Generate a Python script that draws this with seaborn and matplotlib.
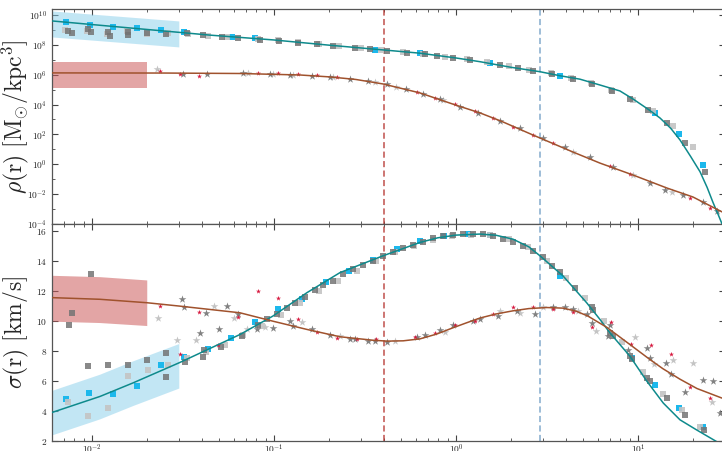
import numpy as np
import matplotlib
matplotlib.use("Agg")
import matplotlib.pyplot as plt
import seaborn as sns
from matplotlib.ticker import FixedLocator, FuncFormatter, NullFormatter, LogLocator

# values; radii given as log10(r / kpc)

# fitted curves, top panel (log10 rho)
dm_rho_line_logr = [-2.22, -1.956, -1.626, -1.352, -1.005, -0.70, -0.401, -0.198, 0.0, 0.132, 0.30,
                    0.4615, 0.571, 0.681, 0.791, 0.901, 0.973, 1.06, 1.121, 1.18, 1.231, 1.29,
                    1.341, 1.38, 1.412, 1.44, 1.462]
dm_rho_line_logv = [9.60, 9.31, 8.95, 8.65, 8.33, 7.98, 7.66, 7.44, 7.12, 6.87, 6.50,
                    6.20, 5.93, 5.70, 5.31, 4.91, 4.37, 3.65, 3.10, 2.41, 1.63, 0.51,
                    -0.50, -1.55, -2.55, -3.35, -4.0]
st_rho_line_logr = [-2.22, -1.6, -1.187, -0.857, -0.692, -0.55, -0.401, -0.198, 0.0, 0.132, 0.25,
                    0.423, 0.643, 0.791, 0.973, 1.159, 1.302, 1.462]
st_rho_line_logv = [6.12, 6.11, 6.08, 5.98, 5.85, 5.68, 5.38, 4.78, 3.96, 3.44, 2.88,
                    1.96, 0.82, 0.08, -0.72, -1.59, -2.19, -3.19]

# fitted curves, bottom panel (sigma in km/s)
dm_sig_line_logr = [-2.22, -1.956, -1.775, -1.522, -1.187, -1.006, -0.819, -0.637, -0.401, -0.198,
                    -0.10, 0.0, 0.132, 0.22, 0.313, 0.40, 0.4615, 0.588, 0.718, 0.791, 0.846,
                    0.956, 1.048, 1.139, 1.231, 1.322, 1.432]
dm_sig_line_v = [3.90, 4.97, 5.87, 7.21, 9.10, 10.33, 11.89, 13.23, 14.35, 15.24,
                 15.55, 15.73, 15.80, 15.72, 15.46, 14.95, 14.35, 13.01, 11.22, 10.11, 9.21,
                 7.65, 6.00, 4.53, 3.41, 2.74, 1.96]
st_sig_line_logr = [-2.22, -1.956, -1.698, -1.522, -1.187, -1.006, -0.819, -0.637, -0.456, -0.379,
                    -0.29, -0.198, -0.106, -0.0165, 0.06, 0.132, 0.22, 0.313, 0.40, 0.50, 0.588,
                    0.66, 0.725, 0.83, 0.956, 1.066, 1.137, 1.231, 1.324, 1.4615]
st_sig_line_v = [11.56, 11.45, 11.22, 11.0, 10.55, 9.99, 9.44, 8.95, 8.72, 8.66,
                 8.68, 8.81, 9.13, 9.55, 9.89, 10.20, 10.47, 10.68, 10.83, 10.90, 10.86,
                 10.66, 10.33, 9.57, 8.43, 7.43, 6.82, 6.12, 5.50, 4.86]

# shaded bands (radius in kpc)
rho_dm_band_r = [0.006, 0.030]
rho_dm_band_lo = [8.53, 7.86]
rho_dm_band_hi = [10.27, 9.60]
rho_st_band_r = [0.006, 0.020]
rho_st_band_lo = [5.11, 5.11]
rho_st_band_hi = [6.85, 6.85]
sig_dm_band_r = [0.006, 0.011, 0.0168, 0.030]
sig_dm_band_lo = [2.40, 3.47, 4.37, 5.53]
sig_dm_band_hi = [5.37, 6.45, 7.35, 8.50]
sig_st_band_r = [0.006, 0.011, 0.020]
sig_st_band_lo = [9.99, 9.90, 9.70]
sig_st_band_hi = [13.05, 12.96, 12.74]

# characteristic radii (kpc)
r_star = 0.40
r_dm = 2.89

# top panel points
rho_sq_dark_logr = [-2.132, -2.110, -2.022, -2.005, -1.912, -1.901, -1.802, -1.802, -1.698, -1.593,
                    -1.478, -1.390, -1.286, -1.198, -1.077, -0.973, -0.868, -0.764, -0.676, -0.555,
                    -0.473, -0.379, -0.269, -0.170, -0.104, -0.016, 0.077, 0.242, 0.341, 0.423,
                    0.527, 0.643, 0.747, 0.857, 0.956, 1.055, 1.159, 1.258, 1.368]
rho_sq_dark_logv = [8.95, 8.77, 9.04, 8.84, 8.88, 8.59, 8.84, 8.66, 8.77, 8.71,
                    8.77, 8.66, 8.55, 8.48, 8.33, 8.26, 8.14, 8.06, 7.94, 7.81,
                    7.72, 7.61, 7.47, 7.37, 7.25, 7.14, 6.99, 6.65, 6.43, 6.27,
                    6.05, 5.69, 5.38, 4.93, 4.37, 3.64, 2.75, 1.41, -0.50]
rho_sq_light_logr = [-2.15, -2.03, -1.92, -1.81, -1.70, -1.58, -1.47, -1.36, -1.26, -1.09, -0.98,
                     -0.87, -0.75, -0.64, -0.52, -0.41, -0.29, -0.18, -0.06, 0.06, 0.17, 0.29,
                     0.40, 0.52, 0.63, 0.74, 0.85, 0.97, 1.08, 1.19, 1.30]
rho_sq_light_logv = [9.00, 8.95, 8.75, 8.90, 8.70, 8.78, 8.70, 8.62, 8.52, 8.36, 8.30,
                     8.17, 8.03, 7.92, 7.78, 7.63, 7.50, 7.39, 7.20, 7.03, 6.85, 6.58,
                     6.33, 6.08, 5.75, 5.42, 5.00, 4.32, 3.55, 2.55, 1.15]
rho_sq_blue_logr = [-2.143, -2.011, -1.885, -1.753, -1.621, -1.495, -1.231, -1.104, -0.445, -0.198,
                    0.187, 0.571, 1.093, 1.225, 1.357]
rho_sq_blue_logv = [9.51, 9.33, 9.22, 9.11, 8.96, 8.84, 8.55, 8.44, 7.66, 7.43,
                    6.76, 5.91, 3.42, 2.03, -0.05]
rho_star_red_logr = [-1.626, -1.516, -1.412, -1.088, -0.978, -0.868, -0.764, -0.654, -0.214, -0.115,
                     -0.005, 0.104, 0.203, 0.313, 0.423, 0.533, 0.846, 0.956, 1.286, 1.396]
rho_star_red_logv = [6.25, 6.05, 5.93, 6.14, 6.10, 6.05, 5.96, 5.87, 4.86, 4.46,
                     4.04, 3.57, 3.08, 2.52, 1.96, 1.41, -0.09, -0.67, -2.28, -2.95]
rho_star_dark_logr = [-1.500, -1.368, -1.170, -1.022, -0.912, -0.791, -0.692, -0.582, -0.484, -0.379,
                      -0.275, -0.181, -0.088, 0.022, 0.121, 0.242, 0.352, 0.478, 0.599, 0.736,
                      0.863, 1.066, 1.148, 1.247, 1.357, 1.434]
rho_star_dark_logv = [6.03, 6.07, 6.10, 6.05, 5.98, 5.91, 5.83, 5.69, 5.58, 5.36,
                      5.02, 4.71, 4.35, 3.86, 3.42, 2.92, 2.41, 1.74, 1.18, 0.47,
                      -0.16, -1.27, -1.72, -2.06, -2.50, -3.13]
rho_star_light_logr = [-1.643, -1.143, -1.005, -0.896, -0.676, -0.445, -0.330, -0.071, 0.643, 0.973, 1.187]
rho_star_light_logv = [6.38, 6.14, 6.05, 5.98, 5.83, 5.49, 5.20, 4.31, 0.84, -0.72, -1.84]

# bottom panel points
sig_sq_dark_logr = [-2.007, -2.108, -2.125, -2.020, -1.910, -1.804, -1.699, -1.595, -1.595, -1.489,
                    -1.390, -1.383, -1.291, -1.177, -1.086, -1.040, -0.985, -0.930, -0.885, -0.830,
                    -0.775, -0.729, -0.674, -0.619, -0.564, -0.509, -0.454, -0.399, -0.345, -0.290,
                    -0.235, -0.180, -0.125, -0.070, -0.015, 0.040, 0.095, 0.150, 0.205, 0.260,
                    0.315, 0.370, 0.425, 0.480, 0.526, 0.571, 0.654, 0.746, 0.754, 0.846,
                    0.864, 0.956, 0.965, 1.048, 1.066, 1.158, 1.258, 1.363]
sig_sq_dark_v = [13.12, 10.56, 9.71, 6.98, 7.09, 7.05, 7.38, 7.88, 6.24, 7.29,
                 7.58, 8.05, 8.28, 8.99, 9.71, 10.11, 10.44, 10.89, 11.23, 11.63,
                 12.05, 12.38, 12.67, 13.12, 13.46, 13.72, 14.01, 14.35, 14.61, 14.84,
                 15.06, 15.28, 15.51, 15.65, 15.75, 15.80, 15.80, 15.80, 15.65, 15.47,
                 15.28, 15.02, 14.68, 14.24, 13.68, 13.24, 12.23, 10.96, 10.73, 9.22,
                 8.99, 7.65, 7.47, 6.20, 5.97, 4.86, 3.74, 2.74]
sig_sq_light_logr = [-2.130, -2.020, -1.914, -1.804, -1.694, -1.584, -1.480, -1.374, -1.269, -1.169,
                     -1.066, -0.962, -0.857, -0.753, -0.648, -0.544, -0.440, -0.335, -0.231, -0.126,
                     -0.022, 0.082, 0.187, 0.291, 0.396, 0.500, 0.604, 0.709, 0.813, 0.912,
                     1.027, 1.137, 1.242, 1.341]
sig_sq_light_v = [4.63, 3.68, 4.19, 6.31, 6.71, 7.05, 7.54, 7.92, 8.39, 9.04,
                  9.64, 10.38, 11.18, 11.98, 12.65, 13.32, 13.99, 14.59, 15.03, 15.40,
                  15.67, 15.77, 15.73, 15.47, 14.93, 13.99, 12.85, 11.51, 9.97, 8.57,
                  6.62, 5.15, 4.08, 2.94]
sig_sq_blue_logr = [-2.143, -2.015, -1.883, -1.754, -1.623, -1.495, -1.365, -1.235, -1.104,
                    -0.976, -0.848, -0.716, -0.588, -0.454, -0.326, -0.198, -0.066, 0.068, 0.187,
                    0.571, 0.965, 1.096, 1.226, 1.356]
sig_sq_blue_v = [4.80, 5.20, 5.15, 5.64, 7.05, 7.58, 8.14, 8.85, 9.93,
                 10.82, 11.49, 12.57, 13.34, 14.08, 14.80, 15.35, 15.67, 15.80, 15.73,
                 13.01, 7.54, 5.73, 4.18, 2.92]
sig_star_red_logr = [-1.626, -1.516, -1.410, -1.306, -1.196, -1.086, -0.980, -0.870, -0.765, -0.655,
                     -0.546, -0.440, -0.225, -0.115, -0.005, 0.104, 0.205, 0.315, 0.425, 0.535,
                     0.641, 0.746, 0.852, 0.962, 1.070, 1.179, 1.286, 1.396]
sig_star_red_v = [11.00, 7.82, 10.62, 8.39, 10.26, 12.00, 11.56, 10.15, 9.30, 8.85,
                  8.83, 8.83, 8.95, 9.22, 9.71, 9.99, 10.44, 10.96, 10.96, 10.82,
                  10.60, 9.62, 9.91, 8.50, 8.43, 7.80, 5.57, 4.85]
sig_star_dark_logr = [-1.507, -1.493, -1.375, -1.260, -1.199, -1.407, -1.302, -1.095, -1.004, -0.912,
                      -0.894, -0.793, -0.692, -0.582, -0.555, -0.482, -0.445, -0.381, -0.216, -0.170,
                      -0.088, -0.015, 0.095, 0.132, 0.232, 0.334, 0.434, 0.535, 0.599, 0.645,
                      0.718, 0.746, 0.837, 0.846, 0.947, 1.048, 1.066, 1.154, 1.180, 1.256,
                      1.359, 1.414, 1.453]
sig_star_dark_v = [11.45, 10.96, 10.56, 11.00, 10.44, 9.17, 9.44, 9.44, 9.55, 9.99,
                   9.66, 9.44, 9.04, 8.81, 8.81, 8.65, 8.65, 8.61, 8.95, 9.10,
                   9.37, 9.71, 9.99, 10.15, 10.33, 10.66, 10.49, 10.96, 10.93, 10.82,
                   10.49, 9.89, 8.99, 9.71, 8.10, 8.21, 7.52, 7.18, 6.48, 5.27,
                   6.09, 5.97, 3.86]
sig_star_light_logr = [-1.639, -1.535, -1.430, -1.328, -1.220, -1.150, -1.049, -0.846, -0.637, -0.335,
                       -0.060, 0.242, 0.352, 0.480, 0.672, 0.769, 0.984, 1.088, 1.194, 1.301, 1.409]
sig_star_light_v = [10.22, 8.72, 8.72, 11.00, 10.22, 9.44, 9.60, 9.91, 8.97, 8.67,
                    9.30, 10.66, 10.51, 10.96, 10.66, 9.32, 8.94, 7.13, 7.43, 7.21, 4.61]

TEAL = "#0e8a8c"
BROWN = "#a0522d"
BLUE_SQ = "#1cb8ec"
RED_ST = "#d7193f"
DARK_G = "#747474"
LIGHT_G = "#c4c4c4"


def kpc(logr):
    return np.power(10.0, np.asarray(logr))


def dex(logv):
    return np.power(10.0, np.asarray(logv))


def points(ax, x, y, marker, color, size, alpha=1.0):
    sns.scatterplot(x=x, y=y, ax=ax, marker=marker, color=color, s=size,
                    linewidth=0, alpha=alpha, zorder=2, legend=False)


def curve(ax, x, y, color):
    sns.lineplot(x=x, y=y, ax=ax, color=color, linewidth=1.1, sort=False,
                 estimator=None, zorder=3, legend=False)


def style_axis(ax):
    ax.set_xscale("log")
    ax.set_xlim(0.00603, 30.0)
    ax.xaxis.set_major_locator(FixedLocator([1e-2, 1e-1, 1e0, 1e1]))
    ax.xaxis.set_minor_locator(LogLocator(base=10, subs=np.arange(2, 10), numticks=20))
    ax.xaxis.set_minor_formatter(NullFormatter())
    ax.tick_params(which="both", direction="in", top=True, right=True,
                   colors="#444444", labelsize=6.8, labelcolor="#222222")
    ax.tick_params(which="major", length=4.5, width=0.8)
    ax.tick_params(which="minor", length=2.5, width=0.6)
    for sp in ax.spines.values():
        sp.set_color("#555555")
        sp.set_linewidth(0.9)
    ax.axvline(r_star, color="#b5312c", lw=1.1, ls=(0, (4, 2.2)), alpha=0.85, zorder=1.5)
    ax.axvline(r_dm, color="#6f9cc4", lw=1.1, ls=(0, (4, 2.2)), alpha=0.85, zorder=1.5)


def main():
    sns.set_style("ticks")
    plt.rcParams["mathtext.fontset"] = "cm"
    plt.rcParams["font.family"] = ["DejaVu Serif"]

    fig = plt.figure(figsize=(7.22, 4.51), dpi=100)
    ax1 = fig.add_axes([0.0720, 0.5033, 0.9319, 0.4767])
    ax2 = fig.add_axes([0.0720, 0.0222, 0.9319, 0.4811])

    # ---- density panel
    ax1.fill_between(rho_dm_band_r, dex(rho_dm_band_lo), dex(rho_dm_band_hi),
                     color="skyblue", alpha=0.5, lw=0, zorder=1)
    ax1.fill_between(rho_st_band_r, dex(rho_st_band_lo), dex(rho_st_band_hi),
                     color="indianred", alpha=0.55, lw=0, zorder=1)
    points(ax1, kpc(rho_sq_blue_logr), dex(rho_sq_blue_logv), "s", BLUE_SQ, 16)
    points(ax1, kpc(rho_sq_light_logr), dex(rho_sq_light_logv), "s", LIGHT_G, 24, 0.9)
    points(ax1, kpc(rho_sq_dark_logr), dex(rho_sq_dark_logv), "s", DARK_G, 24, 0.85)
    points(ax1, kpc(rho_star_light_logr), dex(rho_star_light_logv), "*", LIGHT_G, 34)
    points(ax1, kpc(rho_star_dark_logr), dex(rho_star_dark_logv), "*", DARK_G, 34, 0.9)
    points(ax1, kpc(rho_star_red_logr), dex(rho_star_red_logv), "*", RED_ST, 14)
    curve(ax1, kpc(dm_rho_line_logr), dex(dm_rho_line_logv), TEAL)
    curve(ax1, kpc(st_rho_line_logr), dex(st_rho_line_logv), BROWN)

    style_axis(ax1)
    ax1.set_yscale("log")
    ax1.set_ylim(1e-4, 2.5e10)
    ax1.yaxis.set_major_locator(FixedLocator([10.0 ** k for k in range(-4, 11, 2)]))
    ax1.yaxis.set_minor_locator(FixedLocator([10.0 ** k for k in range(-3, 11, 2)]))
    ax1.yaxis.set_minor_formatter(NullFormatter())
    ax1.yaxis.set_major_formatter(FuncFormatter(
        lambda v, p: r"$10^{%d}$" % int(round(np.log10(v)))))
    ax1.xaxis.set_major_formatter(NullFormatter())
    ax1.set_ylabel(r"$\rho(\mathrm{r})\ [\mathrm{M}_{\odot}/\mathrm{kpc}^{3}]$", fontsize=17)
    ax1.yaxis.set_label_coords(-0.031, 0.5)

    # ---- dispersion panel
    ax2.fill_between(sig_dm_band_r, sig_dm_band_lo, sig_dm_band_hi,
                     color="skyblue", alpha=0.5, lw=0, zorder=1)
    ax2.fill_between(sig_st_band_r, sig_st_band_lo, sig_st_band_hi,
                     color="indianred", alpha=0.55, lw=0, zorder=1)
    points(ax2, kpc(sig_sq_blue_logr), sig_sq_blue_v, "s", BLUE_SQ, 16)
    points(ax2, kpc(sig_sq_light_logr), sig_sq_light_v, "s", LIGHT_G, 22, 0.9)
    points(ax2, kpc(sig_sq_dark_logr), sig_sq_dark_v, "s", DARK_G, 22, 0.85)
    points(ax2, kpc(sig_star_light_logr), sig_star_light_v, "*", LIGHT_G, 34)
    points(ax2, kpc(sig_star_dark_logr), sig_star_dark_v, "*", DARK_G, 34, 0.9)
    points(ax2, kpc(sig_star_red_logr), sig_star_red_v, "*", RED_ST, 14)
    curve(ax2, kpc(dm_sig_line_logr), dm_sig_line_v, TEAL)
    curve(ax2, kpc(st_sig_line_logr), st_sig_line_v, BROWN)

    style_axis(ax2)
    ax2.set_ylim(2, 16.47)
    ax2.yaxis.set_major_locator(FixedLocator([2, 4, 6, 8, 10, 12, 14, 16]))
    ax2.yaxis.set_major_formatter(FuncFormatter(lambda v, p: r"$%d$" % int(round(v))))
    ax2.xaxis.set_major_formatter(FuncFormatter(
        lambda v, p: r"$10^{%d}$" % int(round(np.log10(v)))))
    ax2.tick_params(axis="x", which="major", pad=1.2)
    ax2.set_ylabel(r"$\sigma(\mathrm{r})\ [\mathrm{km/s}]$", fontsize=17)
    ax2.yaxis.set_label_coords(-0.031, 0.5)
    ax2.set_xlabel("")

    fig.savefig("out.png", dpi=100)


if __name__ == "__main__":
    main()
